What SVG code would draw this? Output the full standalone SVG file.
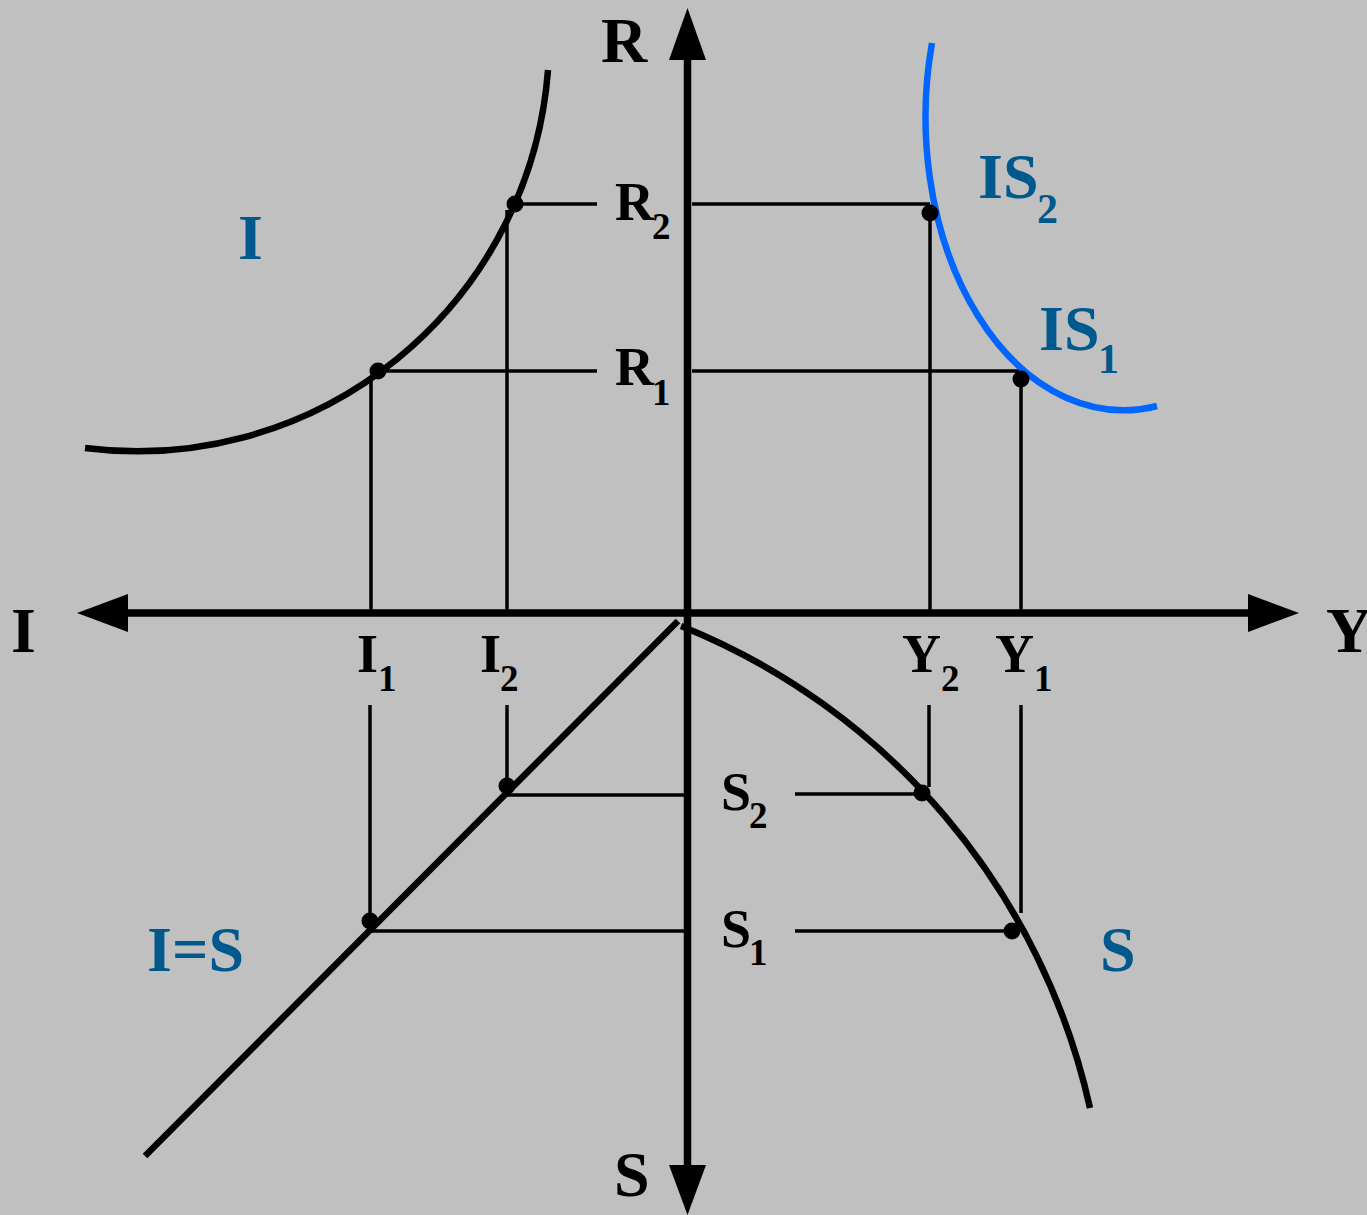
<svg xmlns="http://www.w3.org/2000/svg" width="1367" height="1215" viewBox="0 0 1367 1215">
<style>
.axis{stroke:#000;stroke-width:7.5;fill:none}
.head{fill:#000}
.curve{stroke:#000;stroke-width:6.5;fill:none}
.blue{stroke:#0066FF;stroke-width:6.5;fill:none}
.guide{stroke:#000;stroke-width:3.5;fill:none}
.dot{fill:#000}
text{font-family:"Liberation Serif","Times New Roman",serif;font-weight:bold}
.ax{font-size:64px;fill:#000}
.lb{font-size:54px;fill:#000}
.sub{font-size:37px;fill:#000}
.bl{font-size:64px;fill:#00598C}
.bsub{font-size:42px;fill:#00598C}
</style>
<rect width="1367" height="1215" fill="#C0C0C0"/>
<g id="axes">
<line class="axis" x1="687.5" y1="58" x2="687.5" y2="1167"/>
<line class="axis" x1="126" y1="613" x2="1250" y2="613"/>
<polygon class="head" points="687.5,8 669,60 706,60"/>
<polygon class="head" points="687.5,1215 669,1165 706,1165"/>
<polygon class="head" points="77,613 128,594 128,632"/>
<polygon class="head" points="1299,613 1248,594 1248,632"/>
</g>
<g id="connectors">
<line class="guide" x1="515" y1="204" x2="597" y2="204"/>
<line class="guide" x1="692" y1="204" x2="930" y2="204"/>
<line class="guide" x1="378" y1="371" x2="597" y2="371"/>
<line class="guide" x1="692" y1="371" x2="1021" y2="371"/>
<line class="guide" x1="371" y1="377" x2="371" y2="612"/>
<line class="guide" x1="507" y1="210" x2="507" y2="612"/>
<line class="guide" x1="930" y1="213" x2="930" y2="612"/>
<line class="guide" x1="1021" y1="379" x2="1021" y2="612"/>
<line class="guide" x1="370" y1="705" x2="370" y2="921"/>
<line class="guide" x1="507" y1="705" x2="507" y2="786"/>
<line class="guide" x1="507" y1="795" x2="684" y2="795"/>
<line class="guide" x1="795" y1="794" x2="922" y2="794"/>
<line class="guide" x1="370" y1="931" x2="684" y2="931"/>
<line class="guide" x1="795" y1="931" x2="1012" y2="931"/>
<line class="guide" x1="929" y1="705" x2="929" y2="787"/>
<line class="guide" x1="1021" y1="705" x2="1021" y2="913"/>
</g>
<g id="curve-I">
<path class="curve" d="M85,448 A412,412 0 0 0 548,70"/>
</g>
<g id="curve-IS">
<path class="blue" d="M932,43 A198,293 0 0 0 1157,406"/>
</g>
<g id="curve-S">
<path class="curve" d="M681,626 A678,678 0 0 1 1090,1108"/>
</g>
<g id="line-IS">
<line class="curve" x1="145" y1="1156" x2="678" y2="621"/>
</g>
<g id="dots">
<circle class="dot" cx="515" cy="204" r="8.5"/>
<circle class="dot" cx="378" cy="371" r="8.5"/>
<circle class="dot" cx="930" cy="213" r="8.5"/>
<circle class="dot" cx="1021" cy="379" r="8.5"/>
<circle class="dot" cx="370" cy="921" r="8.5"/>
<circle class="dot" cx="507" cy="786" r="8.5"/>
<circle class="dot" cx="922" cy="793" r="8.5"/>
<circle class="dot" cx="1012" cy="931" r="8.5"/>
</g>
<g id="axis-labels">
<text class="ax" x="601" y="62">R</text>
<text class="ax" x="11" y="652">I</text>
<text class="ax" x="1326" y="652">Y</text>
<text class="ax" x="614" y="1196">S</text>
</g>
<g id="label-R2"><text class="lb" x="615" y="220">R</text><text class="sub" x="652" y="239">2</text></g>
<g id="label-R1"><text class="lb" x="615" y="385">R</text><text class="sub" x="652" y="405">1</text></g>
<g id="label-I1"><text class="lb" x="357" y="672">I</text><text class="sub" x="378" y="691">1</text></g>
<g id="label-I2"><text class="lb" x="480" y="672">I</text><text class="sub" x="500" y="691">2</text></g>
<g id="label-Y2"><text class="lb" x="902" y="672">Y</text><text class="sub" x="941" y="691">2</text></g>
<g id="label-Y1"><text class="lb" x="995" y="672">Y</text><text class="sub" x="1034" y="691">1</text></g>
<g id="label-S2"><text class="lb" x="721" y="810">S</text><text class="sub" x="749" y="828">2</text></g>
<g id="label-S1"><text class="lb" x="721" y="947">S</text><text class="sub" x="749" y="965">1</text></g>
<g id="label-I"><text class="bl" x="238" y="259">I</text></g>
<g id="label-IS2"><text class="bl" x="978" y="198">IS</text><text class="bsub" x="1037" y="223">2</text></g>
<g id="label-IS1"><text class="bl" x="1039" y="350">IS</text><text class="bsub" x="1098" y="373">1</text></g>
<g id="label-IeqS"><text class="bl" x="147" y="971">I=S</text></g>
<g id="label-S"><text class="bl" x="1100" y="971">S</text></g>
</svg>
